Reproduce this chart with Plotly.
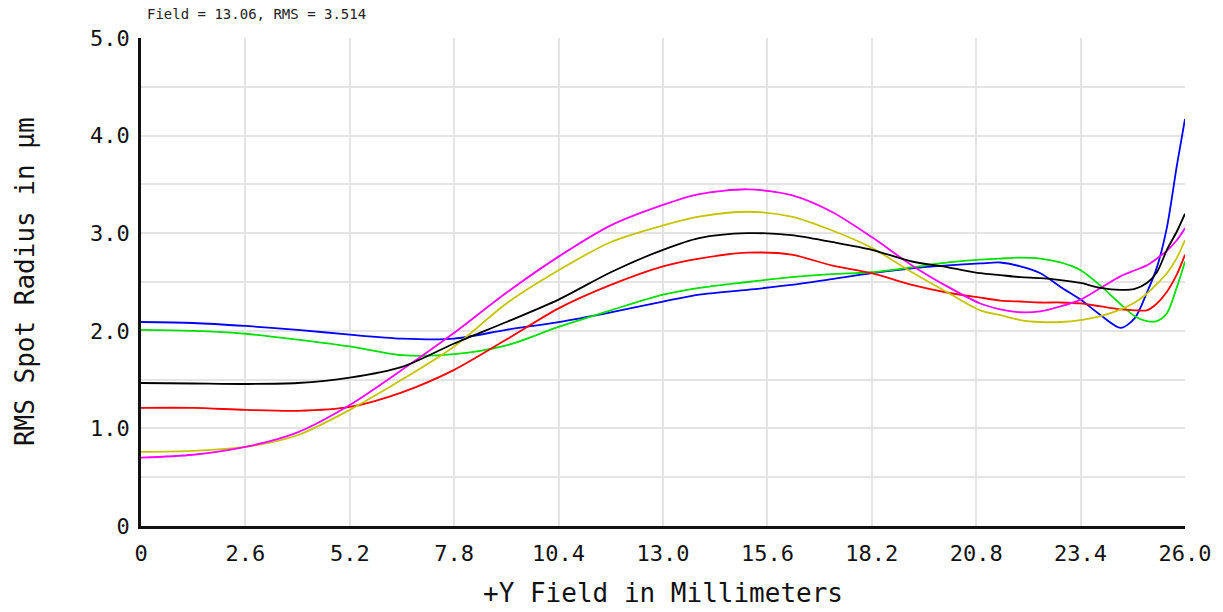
import plotly.graph_objects as go

field_mm = [0, 1.3, 2.6, 3.9, 5.2, 6.5, 7.8, 9.1, 10.4, 11.7, 13.0, 13.9, 15.1, 16.2, 17.2, 18.2,
            19.2, 20.1, 20.9, 21.4, 21.9, 22.4, 22.9, 23.4, 23.9, 24.4, 24.75, 25.05, 25.3, 25.55, 25.8, 26.0]

rms_black = [1.465, 1.46, 1.455, 1.465, 1.52, 1.63, 1.87, 2.09, 2.32, 2.60, 2.83, 2.95, 3.00, 2.98, 2.91, 2.83,
             2.71, 2.65, 2.59, 2.57, 2.55, 2.54, 2.52, 2.49, 2.44, 2.42, 2.43, 2.49, 2.60, 2.83, 3.02, 3.20]
rms_magenta = [0.70, 0.73, 0.81, 0.96, 1.24, 1.60, 1.98, 2.39, 2.76, 3.08, 3.29, 3.40, 3.45, 3.39, 3.22, 2.96,
               2.67, 2.45, 2.28, 2.22, 2.19, 2.20, 2.25, 2.32, 2.44, 2.56, 2.62, 2.67, 2.74, 2.82, 2.93, 3.05]
rms_yellow = [0.76, 0.77, 0.81, 0.93, 1.19, 1.50, 1.84, 2.28, 2.62, 2.91, 3.08, 3.17, 3.22, 3.17, 3.03, 2.85,
              2.60, 2.39, 2.21, 2.16, 2.11, 2.09, 2.09, 2.11, 2.15, 2.22, 2.29, 2.38, 2.48, 2.59, 2.75, 2.93]
rms_red = [1.21, 1.21, 1.19, 1.18, 1.22, 1.37, 1.60, 1.91, 2.23, 2.47, 2.66, 2.74, 2.80, 2.78, 2.67, 2.59,
           2.47, 2.39, 2.34, 2.31, 2.30, 2.29, 2.29, 2.28, 2.25, 2.22, 2.21, 2.21, 2.28, 2.40, 2.58, 2.78]
rms_green = [2.01, 2.00, 1.97, 1.91, 1.84, 1.75, 1.76, 1.85, 2.04, 2.21, 2.37, 2.44, 2.50, 2.55, 2.58, 2.60,
             2.65, 2.70, 2.73, 2.74, 2.75, 2.74, 2.70, 2.62, 2.46, 2.27, 2.15, 2.10, 2.10, 2.18, 2.45, 2.71]
rms_blue = [2.09, 2.08, 2.05, 2.01, 1.96, 1.92, 1.92, 2.01, 2.09, 2.19, 2.30, 2.37, 2.42, 2.47, 2.53, 2.59,
            2.64, 2.67, 2.69, 2.70, 2.66, 2.59, 2.45, 2.32, 2.16, 2.03, 2.13, 2.39, 2.65, 3.06, 3.70, 4.17]

x_tick_vals = [0, 2.6, 5.2, 7.8, 10.4, 13.0, 15.6, 18.2, 20.8, 23.4, 26.0]
x_tick_text = ["0", "2.6", "5.2", "7.8", "10.4", "13.0", "15.6", "18.2", "20.8", "23.4", "26.0"]
y_tick_vals = [0, 0.5, 1.0, 1.5, 2.0, 2.5, 3.0, 3.5, 4.0, 4.5, 5.0]
y_tick_text = ["0", "", "1.0", "", "2.0", "", "3.0", "", "4.0", "", "5.0"]

title_text = "Field = 13.06, RMS = 3.514"
x_title = "+Y Field in Millimeters"
y_title = "RMS Spot Radius in µm"

series = [
    (rms_blue, "#0000ff"),
    (rms_green, "#00e000"),
    (rms_red, "#ff0000"),
    (rms_yellow, "#c4c400"),
    (rms_magenta, "#ff00ff"),
    (rms_black, "#000000"),
]

mono = "DejaVu Sans Mono"
fig = go.Figure()
for vals, col in series:
    fig.add_trace(go.Scatter(x=field_mm, y=vals, mode="lines",
                             line=dict(color=col, width=1.8, shape="spline", smoothing=0.8),
                             showlegend=False, hoverinfo="skip"))

fig.update_layout(
    width=1223, height=612,
    margin=dict(l=141, r=38, t=38, b=86),
    paper_bgcolor="white", plot_bgcolor="white",
    font=dict(family=mono, color="#111111"),
)
fig.update_xaxes(range=[0, 26], tickvals=x_tick_vals, ticktext=x_tick_text,
                 showgrid=True, gridcolor="#e4e4e4", gridwidth=2,
                 showline=True, linecolor="#111111", linewidth=2.5,
                 zeroline=False, ticks="", tickfont=dict(size=22, family=mono),
                 ticklabelstandoff=6)
fig.update_yaxes(range=[0, 5], tickvals=y_tick_vals, ticktext=y_tick_text,
                 showgrid=True, gridcolor="#e4e4e4", gridwidth=2,
                 showline=True, linecolor="#111111", linewidth=2.5,
                 zeroline=False, ticks="", tickfont=dict(size=22, family=mono),
                 ticklabelstandoff=4)

fig.add_annotation(text=title_text, xref="paper", yref="paper", x=0.004, y=1.049,
                   xanchor="left", yanchor="middle", showarrow=False,
                   font=dict(size=14, family=mono, color="#222222"))
fig.add_annotation(text=x_title, xref="paper", yref="paper", x=0.5, y=-0.137,
                   xanchor="center", yanchor="middle", showarrow=False,
                   font=dict(size=26, family=mono, color="#111111"))
fig.add_annotation(text=y_title, xref="paper", yref="paper", x=-0.111, y=0.5,
                   xanchor="center", yanchor="middle", showarrow=False, textangle=-90,
                   font=dict(size=26, family=mono, color="#111111"))

fig.write_html("out.html")
